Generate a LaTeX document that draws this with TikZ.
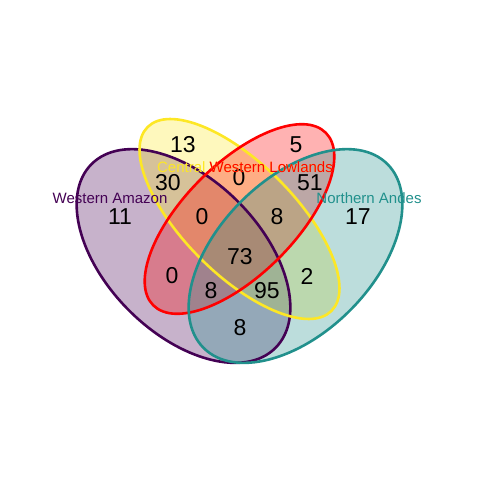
\documentclass[tikz,border=0pt]{standalone}
\usepackage{fontspec}
\setmainfont{Liberation Sans}
\usepackage{tikz}

\definecolor{amazon}{RGB}{68,1,84}
\definecolor{central}{RGB}{253,231,37}
\definecolor{lowland}{RGB}{255,0,0}
\definecolor{andes}{RGB}{33,144,140}

\tikzset{
    num/.style={font=\fontsize{23}{23}\selectfont, text=black, inner sep=0pt},
    setname/.style={font=\fontsize{15}{15}\selectfont, inner sep=0pt},
    rim/.style={line width=2.6pt}
}

\begin{document}
\begin{tikzpicture}[x=1pt, y=-1pt]
        \useasboundingbox (0,0) rectangle (480,480);

        % fills first
        \fill[amazon, fill opacity=0.3] (183.5,256) circle [x radius=130, y radius=77, rotate=-45];
        \fill[central, fill opacity=0.3] (239.5,219) circle [x radius=130, y radius=55.5, rotate=-45];
        \fill[lowland, fill opacity=0.3] (239.5,219) circle [x radius=122, y radius=55.5, rotate=45];
        \fill[andes, fill opacity=0.3] (295.5,256) circle [x radius=130, y radius=77, rotate=45];

        % borders
        \draw[rim, amazon] (183.5,256) circle [x radius=130, y radius=77, rotate=-45];
        \draw[rim, central] (239.5,219) circle [x radius=130, y radius=55.5, rotate=-45];
        \draw[rim, lowland] (239.5,219) circle [x radius=122, y radius=55.5, rotate=45];
        \draw[rim, andes] (295.5,256) circle [x radius=130, y radius=77, rotate=45];

        % counts
        \node[num] (n13) at (183,145) {13};
        \node[num] (n5) at (296,145) {5};
        \node[num] (n30) at (168,183) {30};
        \node[num] (n0a) at (239,178) {0};
        \node[num] (n51) at (310,183) {51};
        \node[num] (n11) at (120,217) {11};
        \node[num] (n0b) at (202,217) {0};
        \node[num] (n8a) at (277,217) {8};
        \node[num] (n17) at (358,217) {17};
        \node[num] (n73) at (240,257) {73};
        \node[num] (n0c) at (172,276) {0};
        \node[num] (n2) at (307,276) {2};
        \node[num] (n8b) at (211,291) {8};
        \node[num] (n95) at (267,291) {95};
        \node[num] (n8c) at (240,328) {8};

        % set names
        \node[setname, text=amazon] (wa) at (110,198) {Western Amazon};
        \node[setname, text=andes] (na) at (369,198) {Northern Andes};
        \node[setname, text=central, anchor=east] (cwl) at (333,167) {Central Western Lowlands};
        \node[setname, text=lowland, anchor=east] (wl) at (333,167) {Western Lowlands};

    \end{tikzpicture}
\end{document}
